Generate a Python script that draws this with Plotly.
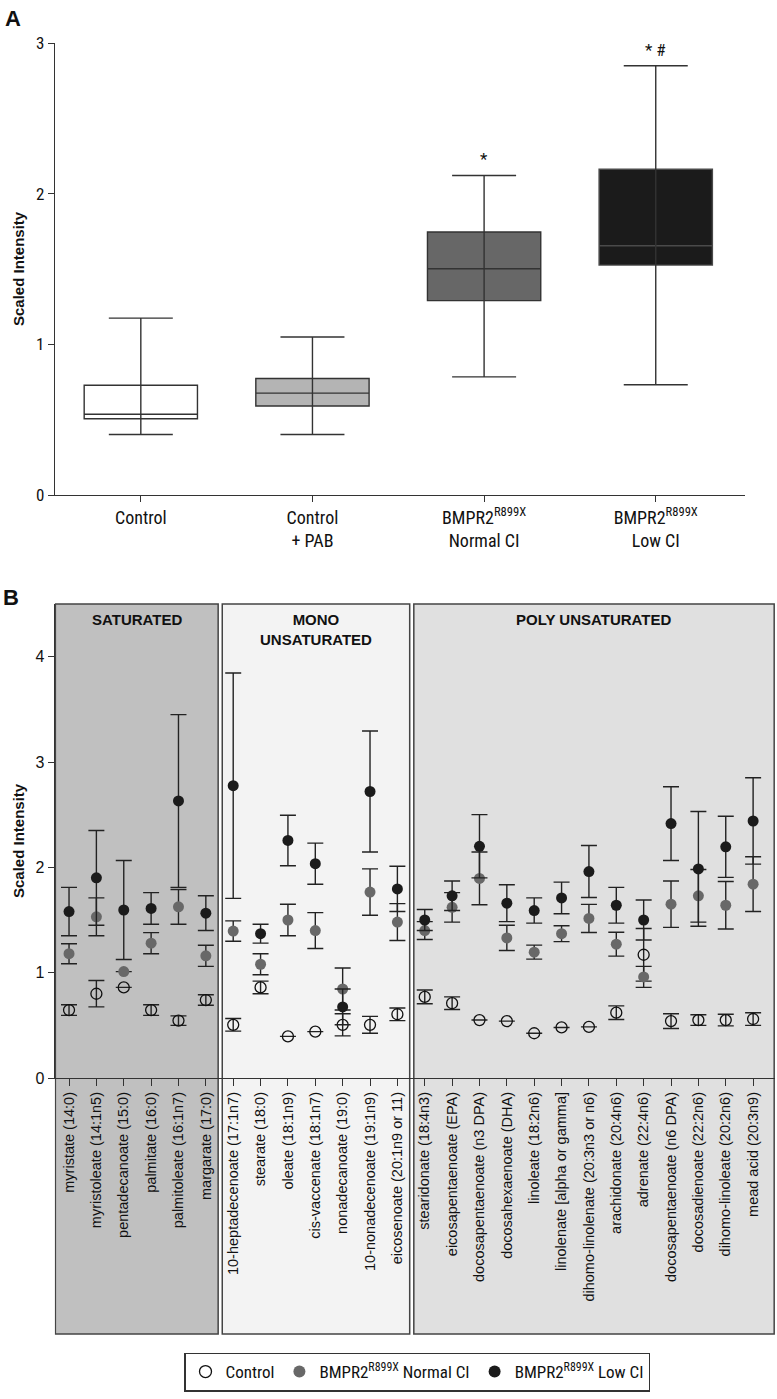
import plotly.graph_objects as go

# ---------------- Panel A data ----------------
groups_a = ["Control", "Control<br>+ PAB", "BMPR2<sup>R899X</sup><br>Normal CI", "BMPR2<sup>R899X</sup><br>Low CI"]
box_low = [0.402, 0.402, 0.784, 0.732]
box_q1 = [0.506, 0.591, 1.290, 1.526]
box_med = [0.536, 0.676, 1.502, 1.654]
box_q3 = [0.728, 0.773, 1.746, 2.162]
box_high = [1.174, 1.049, 2.121, 2.849]
box_fill = ["#ffffff", "#b4b4b4", "#676767", "#1b1b1b"]
box_edge = ["#333333", "#333333", "#333333", "#4a4a4a"]
sig_text = ["", "", "*", "* #"]

# ---------------- Panel B data ----------------
acids = [
    "myristate (14:0)", "myristoleate (14:1n5)", "pentadecanoate (15:0)", "palmitate (16:0)",
    "palmitoleate (16:1n7)", "margarate (17:0)",
    "10-heptadecenoate (17:1n7)", "stearate (18:0)", "oleate (18:1n9)", "cis-vaccenate (18:1n7)",
    "nonadecanoate (19:0)", "10-nonadecenoate (19:1n9)", "eicosenoate (20:1n9 or 11)",
    "stearidonate (18:4n3)", "eicosapentaenoate (EPA)", "docosapentaenoate (n3 DPA)",
    "docosahexaenoate (DHA)", "linoleate (18:2n6)", "linolenate [alpha or gamma]",
    "dihomo-linolenate (20:3n3 or n6)", "arachidonate (20:4n6)", "adrenate (22:4n6)",
    "docosapentaenoate (n6 DPA)", "docosadienoate (22:2n6)", "dihomo-linoleate (20:2n6)",
    "mead acid (20:3n9)",
]
ctrl_mean = [0.645, 0.80, 0.86, 0.645, 0.545, 0.74,
             0.505, 0.86, 0.395, 0.44, 0.505, 0.505, 0.605,
             0.77, 0.71, 0.55, 0.54, 0.425, 0.48, 0.485, 0.62, 1.17, 0.54, 0.55, 0.55, 0.56]
ctrl_err = [0.05, 0.125, None, 0.05, 0.045, 0.05,
            0.06, 0.06, None, None, 0.105, 0.08, 0.06,
            0.065, 0.06, None, None, None, None, None, 0.065, 0.25, 0.07, 0.05, 0.055, 0.06]
norm_mean = [1.18, 1.53, 1.01, 1.28, 1.625, 1.16,
             1.395, 1.08, 1.50, 1.40, 0.845, 1.765, 1.48,
             1.40, 1.62, 1.895, 1.33, 1.195, 1.37, 1.515, 1.27, 0.96, 1.65, 1.73, 1.64, 1.84]
norm_err = [0.095, 0.18, None, 0.10, 0.165, 0.10,
            0.097, 0.10, 0.15, 0.17, 0.20, 0.22, 0.175,
            0.085, 0.14, 0.25, 0.12, 0.066, 0.075, 0.133, 0.113, 0.10, 0.22, 0.25, 0.225, 0.26]
low_mean = [1.58, 1.90, 1.595, 1.61, 2.63, 1.565,
            2.775, 1.37, 2.255, 2.035, 0.675, 2.72, 1.795,
            1.50, 1.73, 2.20, 1.66, 1.59, 1.71, 1.96, 1.64, 1.50, 2.415, 1.985, 2.195, 2.44]
low_err = [0.23, 0.45, 0.47, 0.15, 0.82, 0.165,
           1.07, 0.09, 0.24, 0.195, 0.17, 0.575, 0.215,
           0.10, 0.14, 0.30, 0.175, 0.12, 0.15, 0.247, 0.17, 0.19, 0.35, 0.545, 0.29, 0.41]

sections = ["SATURATED", "MONO<br>UNSATURATED", "POLY UNSATURATED"]
section_sizes = [6, 7, 13]
section_fill = ["#c0c0c0", "#f3f3f3", "#e0e0e0"]

NARROW = "Liberation Sans Narrow, Arial Narrow, Roboto Condensed, sans-serif"
SANS = "Liberation Sans, Arial, Helvetica, sans-serif"
W, H = 777, 1399

def px_x(p):
    return p / W

def px_y(p):
    return 1 - p / H

fig = go.Figure()

# ---------------- Panel A ----------------
xa = list(range(len(groups_a)))
fig.add_trace(go.Scatter(
    x=xa, y=box_med, mode="markers",
    marker=dict(size=1, color="rgba(0,0,0,0)"),
    error_y=dict(type="data", symmetric=False,
                 array=[h - m for h, m in zip(box_high, box_med)],
                 arrayminus=[m - l for m, l in zip(box_med, box_low)],
                 color="#333333", thickness=1.4, width=32),
    showlegend=False, hoverinfo="skip", xaxis="x", yaxis="y"))
for i in xa:
    fig.add_trace(go.Box(
        x=[i], q1=[box_q1[i]], median=[box_med[i]], q3=[box_q3[i]],
        lowerfence=[box_q1[i]], upperfence=[box_q3[i]],
        width=0.66, fillcolor=box_fill[i], line=dict(color=box_edge[i], width=1.4),
        whiskerwidth=0, showlegend=False, boxpoints=False,
        xaxis="x", yaxis="y"))
for i in xa:
    if sig_text[i]:
        fig.add_annotation(x=i, y=box_high[i], xref="x", yref="y", text=sig_text[i],
                           showarrow=False, yanchor="bottom", yshift=4,
                           font=dict(family=NARROW, size=17, color="#111"))

# ---------------- Panel B ----------------
xb = list(range(len(acids)))
err_col = "#222222"
fig.add_trace(go.Scatter(
    x=xb, y=ctrl_mean, mode="markers",
    marker=dict(size=11, color="rgba(0,0,0,0)", line=dict(color="#111111", width=1.3)),
    error_y=dict(type="data", array=ctrl_err, color=err_col, thickness=1.4, width=8),
    showlegend=False, xaxis="x2", yaxis="y2"))
fig.add_trace(go.Scatter(
    x=xb, y=norm_mean, mode="markers",
    marker=dict(size=11, color="#686868", line=dict(width=0)),
    error_y=dict(type="data", array=norm_err, color=err_col, thickness=1.4, width=8),
    showlegend=False, xaxis="x2", yaxis="y2"))
fig.add_trace(go.Scatter(
    x=xb, y=low_mean, mode="markers",
    marker=dict(size=11, color="#1b1b1b", line=dict(width=0)),
    error_y=dict(type="data", array=low_err, color=err_col, thickness=1.4, width=8),
    showlegend=False, xaxis="x2", yaxis="y2"))

# legend entries
fig.add_trace(go.Scatter(x=[None], y=[None], mode="markers", name="Control",
                         marker=dict(size=12, color="white", line=dict(color="#111", width=1.3)),
                         xaxis="x2", yaxis="y2"))
fig.add_trace(go.Scatter(x=[None], y=[None], mode="markers", name="BMPR2<sup>R899X</sup> Normal CI",
                         marker=dict(size=12, color="#686868"), xaxis="x2", yaxis="y2"))
fig.add_trace(go.Scatter(x=[None], y=[None], mode="markers", name="BMPR2<sup>R899X</sup> Low CI",
                         marker=dict(size=12, color="#1b1b1b"), xaxis="x2", yaxis="y2"))

# section boxes
start = 0
box_bottom = px_y(1334)
box_top = px_y(604)
for k, (name, n) in enumerate(zip(sections, section_sizes)):
    x0 = start - 0.5 if k == 0 else start - 0.4
    x1 = start + n - 1 + 0.45 if k < len(sections) - 1 else start + n - 1 + 0.77
    fig.add_shape(type="rect", xref="x2", yref="paper", x0=x0, x1=x1, y0=box_bottom, y1=box_top,
                  fillcolor=section_fill[k], line=dict(color="#444444", width=1.5), layer="below")
    fig.add_annotation(x=(x0 + x1) / 2, y=box_top, xref="x2", yref="paper", text="<b>%s</b>" % name,
                       showarrow=False, yanchor="top", yshift=-5,
                       font=dict(family=SANS, size=15, color="#111"))
    start += n

# panel letters and axis titles
fig.add_annotation(x=px_x(3), y=px_y(4), xref="paper", yref="paper", text="<b>A</b>",
                   showarrow=False, xanchor="left", yanchor="top",
                   font=dict(family=SANS, size=22, color="#111"))
fig.add_annotation(x=px_x(1), y=px_y(583), xref="paper", yref="paper", text="<b>B</b>",
                   showarrow=False, xanchor="left", yanchor="top",
                   font=dict(family=SANS, size=22, color="#111"))
for yc in (269, 841):
    fig.add_annotation(x=px_x(18), y=px_y(yc), xref="paper", yref="paper",
                       text="<b>Scaled Intensity</b>", textangle=-90, showarrow=False,
                       xanchor="center", yanchor="middle",
                       font=dict(family=SANS, size=15, color="#111"))

axis_common = dict(showgrid=False, zeroline=False, showline=True, linecolor="#333333",
                   linewidth=1.4, ticks="outside", tickcolor="#333333", tickwidth=1.4,
                   automargin=False)

fig.update_layout(
    width=W, height=H, autosize=False,
    margin=dict(l=0, r=0, t=0, b=0, pad=0, autoexpand=False),
    paper_bgcolor="white", plot_bgcolor="rgba(0,0,0,0)",
    boxmode="overlay",
    xaxis=dict(domain=[px_x(55), px_x(745)], range=[-0.5, 3.52], anchor="y",
               tickvals=xa, ticktext=groups_a, ticklen=6,
               tickfont=dict(family=NARROW, size=18, color="#111"), **axis_common),
    yaxis=dict(domain=[px_y(495), px_y(43)], range=[0, 3], anchor="x",
               tickvals=[0, 1, 2, 3], ticklen=6,
               tickfont=dict(family=NARROW, size=17, color="#111"), **axis_common),
    xaxis2=dict(domain=[px_x(54.8), px_x(775)], range=[-0.52, 25.8], anchor="y2",
                tickvals=xb, ticktext=acids, tickangle=-90, ticklen=7,
                tickfont=dict(family=SANS, size=14.5, color="#111"), **axis_common),
    yaxis2=dict(domain=[px_y(1078), px_y(604)], range=[0, 4.5], anchor="x2",
                tickvals=[0, 1, 2, 3, 4], ticklen=6,
                tickfont=dict(family=SANS, size=16, color="#111"), **axis_common),
    legend=dict(orientation="h", x=px_x(417), y=px_y(1372), xanchor="center", yanchor="middle",
                bordercolor="#333333", borderwidth=1.5, bgcolor="white",
                font=dict(family=NARROW, size=17, color="#111"), itemwidth=30,
                tracegroupgap=0),
)

fig.write_html("out.html",
               config={"responsive": False, "displayModeBar": False},
               post_script="document.body.style.margin='0';document.body.style.overflow='hidden';")
